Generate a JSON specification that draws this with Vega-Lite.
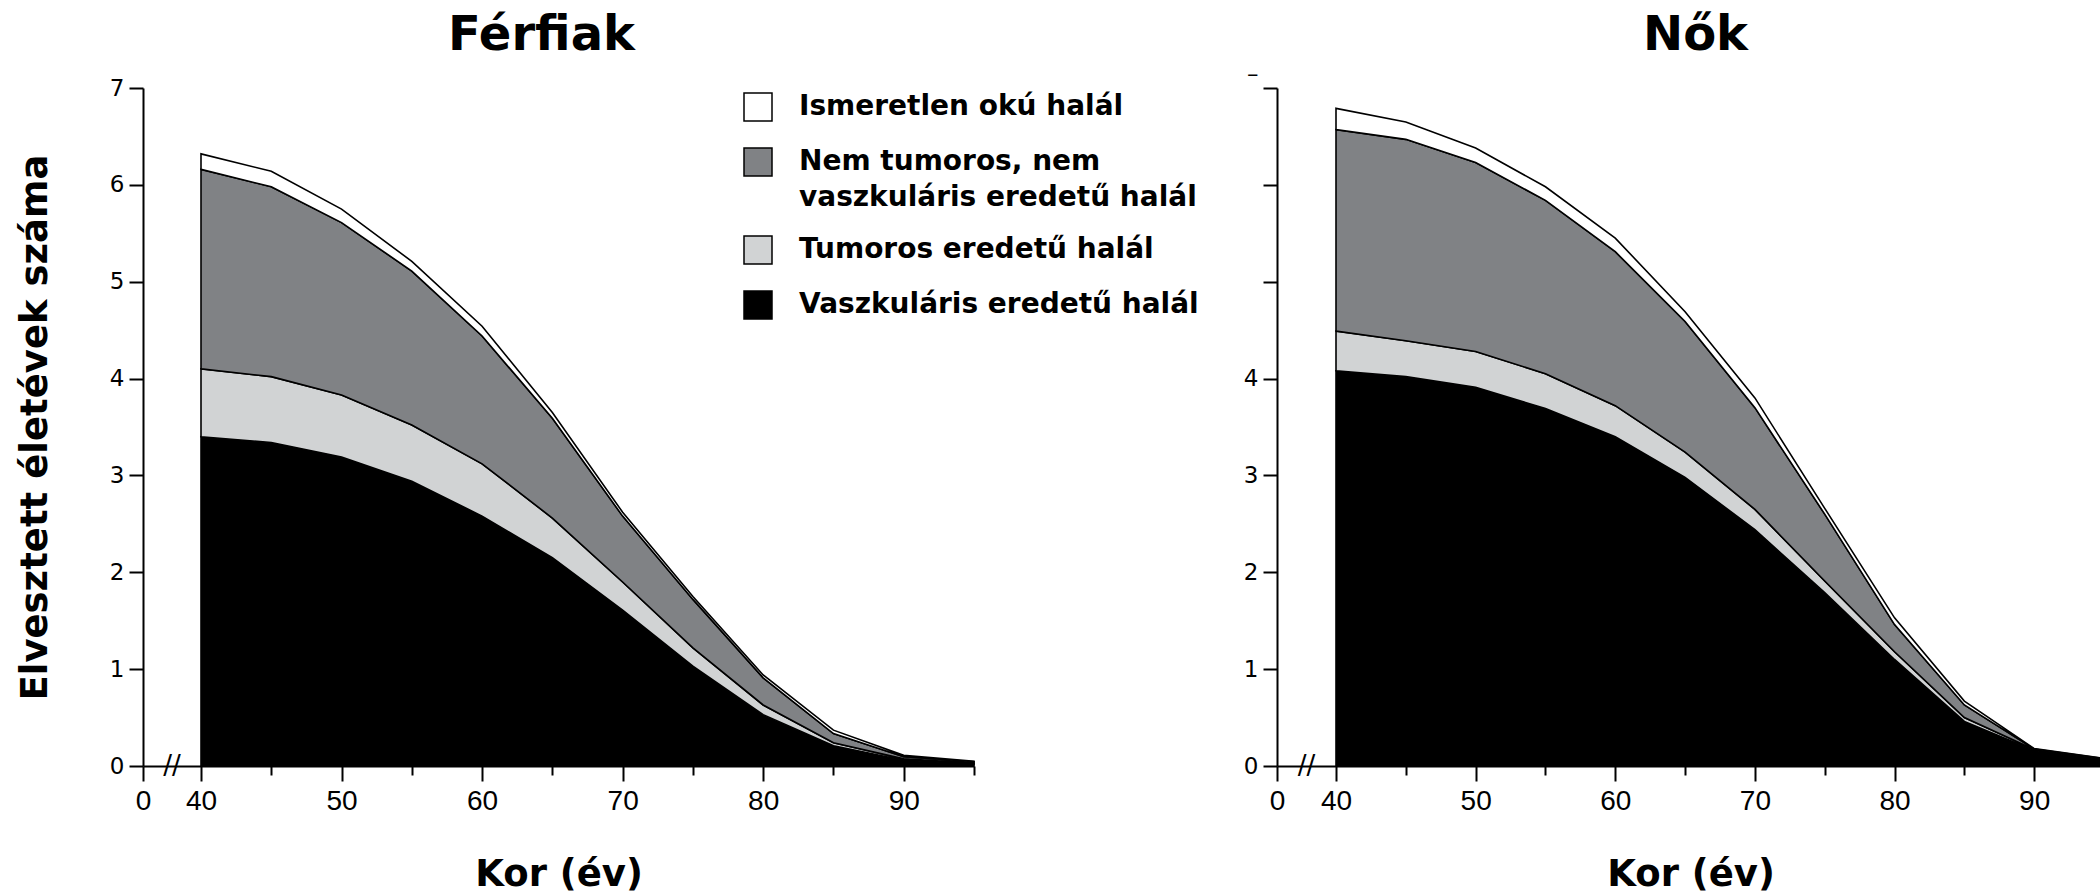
{
  "$schema": "https://vega.github.io/schema/vega-lite/v6.json",
  "padding": {"left": 16, "top": 12, "right": 0, "bottom": 0},
  "background": "white",
  "config": {
    "view": {"stroke": null},
    "axis": {"domainColor": "#000", "tickColor": "#000", "labelColor": "#000", "titleColor": "#000", "domainWidth": 2, "tickWidth": 2, "grid": false}
  },
  "data": {"values": [
    {"sex": "Férfiak", "age": 40, "cause": "Vaszkuláris eredetű halál", "value": 3.40},
    {"sex": "Férfiak", "age": 40, "cause": "Tumoros eredetű halál", "value": 0.70},
    {"sex": "Férfiak", "age": 40, "cause": "Nem tumoros, nem vaszkuláris eredetű halál", "value": 2.06},
    {"sex": "Férfiak", "age": 40, "cause": "Ismeretlen okú halál", "value": 0.16},
    {"sex": "Férfiak", "age": 45, "cause": "Vaszkuláris eredetű halál", "value": 3.34},
    {"sex": "Férfiak", "age": 45, "cause": "Tumoros eredetű halál", "value": 0.68},
    {"sex": "Férfiak", "age": 45, "cause": "Nem tumoros, nem vaszkuláris eredetű halál", "value": 1.96},
    {"sex": "Férfiak", "age": 45, "cause": "Ismeretlen okú halál", "value": 0.16},
    {"sex": "Férfiak", "age": 50, "cause": "Vaszkuláris eredetű halál", "value": 3.19},
    {"sex": "Férfiak", "age": 50, "cause": "Tumoros eredetű halál", "value": 0.64},
    {"sex": "Férfiak", "age": 50, "cause": "Nem tumoros, nem vaszkuláris eredetű halál", "value": 1.78},
    {"sex": "Férfiak", "age": 50, "cause": "Ismeretlen okú halál", "value": 0.14},
    {"sex": "Férfiak", "age": 55, "cause": "Vaszkuláris eredetű halál", "value": 2.94},
    {"sex": "Férfiak", "age": 55, "cause": "Tumoros eredetű halál", "value": 0.58},
    {"sex": "Férfiak", "age": 55, "cause": "Nem tumoros, nem vaszkuláris eredetű halál", "value": 1.59},
    {"sex": "Férfiak", "age": 55, "cause": "Ismeretlen okú halál", "value": 0.10},
    {"sex": "Férfiak", "age": 60, "cause": "Vaszkuláris eredetű halál", "value": 2.58},
    {"sex": "Férfiak", "age": 60, "cause": "Tumoros eredetű halál", "value": 0.54},
    {"sex": "Férfiak", "age": 60, "cause": "Nem tumoros, nem vaszkuláris eredetű halál", "value": 1.32},
    {"sex": "Férfiak", "age": 60, "cause": "Ismeretlen okú halál", "value": 0.10},
    {"sex": "Férfiak", "age": 65, "cause": "Vaszkuláris eredetű halál", "value": 2.15},
    {"sex": "Férfiak", "age": 65, "cause": "Tumoros eredetű halál", "value": 0.41},
    {"sex": "Férfiak", "age": 65, "cause": "Nem tumoros, nem vaszkuláris eredetű halál", "value": 1.03},
    {"sex": "Férfiak", "age": 65, "cause": "Ismeretlen okú halál", "value": 0.06},
    {"sex": "Férfiak", "age": 70, "cause": "Vaszkuláris eredetű halál", "value": 1.61},
    {"sex": "Férfiak", "age": 70, "cause": "Tumoros eredetű halál", "value": 0.29},
    {"sex": "Férfiak", "age": 70, "cause": "Nem tumoros, nem vaszkuláris eredetű halál", "value": 0.68},
    {"sex": "Férfiak", "age": 70, "cause": "Ismeretlen okú halál", "value": 0.04},
    {"sex": "Férfiak", "age": 75, "cause": "Vaszkuláris eredetű halál", "value": 1.03},
    {"sex": "Férfiak", "age": 75, "cause": "Tumoros eredetű halál", "value": 0.19},
    {"sex": "Férfiak", "age": 75, "cause": "Nem tumoros, nem vaszkuláris eredetű halál", "value": 0.50},
    {"sex": "Férfiak", "age": 75, "cause": "Ismeretlen okú halál", "value": 0.03},
    {"sex": "Férfiak", "age": 80, "cause": "Vaszkuláris eredetű halál", "value": 0.53},
    {"sex": "Férfiak", "age": 80, "cause": "Tumoros eredetű halál", "value": 0.10},
    {"sex": "Férfiak", "age": 80, "cause": "Nem tumoros, nem vaszkuláris eredetű halál", "value": 0.28},
    {"sex": "Férfiak", "age": 80, "cause": "Ismeretlen okú halál", "value": 0.03},
    {"sex": "Férfiak", "age": 85, "cause": "Vaszkuláris eredetű halál", "value": 0.21},
    {"sex": "Férfiak", "age": 85, "cause": "Tumoros eredetű halál", "value": 0.03},
    {"sex": "Férfiak", "age": 85, "cause": "Nem tumoros, nem vaszkuláris eredetű halál", "value": 0.095},
    {"sex": "Férfiak", "age": 85, "cause": "Ismeretlen okú halál", "value": 0.035},
    {"sex": "Férfiak", "age": 90, "cause": "Vaszkuláris eredetű halál", "value": 0.06},
    {"sex": "Férfiak", "age": 90, "cause": "Tumoros eredetű halál", "value": 0.014},
    {"sex": "Férfiak", "age": 90, "cause": "Nem tumoros, nem vaszkuláris eredetű halál", "value": 0.021},
    {"sex": "Férfiak", "age": 90, "cause": "Ismeretlen okú halál", "value": 0.015},
    {"sex": "Férfiak", "age": 95, "cause": "Vaszkuláris eredetű halál", "value": 0.02},
    {"sex": "Férfiak", "age": 95, "cause": "Tumoros eredetű halál", "value": 0.01},
    {"sex": "Férfiak", "age": 95, "cause": "Nem tumoros, nem vaszkuláris eredetű halál", "value": 0.015},
    {"sex": "Férfiak", "age": 95, "cause": "Ismeretlen okú halál", "value": 0.005},
    {"sex": "Nők", "age": 40, "cause": "Vaszkuláris eredetű halál", "value": 4.08},
    {"sex": "Nők", "age": 40, "cause": "Tumoros eredetű halál", "value": 0.41},
    {"sex": "Nők", "age": 40, "cause": "Nem tumoros, nem vaszkuláris eredetű halál", "value": 2.08},
    {"sex": "Nők", "age": 40, "cause": "Ismeretlen okú halál", "value": 0.22},
    {"sex": "Nők", "age": 45, "cause": "Vaszkuláris eredetű halál", "value": 4.02},
    {"sex": "Nők", "age": 45, "cause": "Tumoros eredetű halál", "value": 0.37},
    {"sex": "Nők", "age": 45, "cause": "Nem tumoros, nem vaszkuláris eredetű halál", "value": 2.08},
    {"sex": "Nők", "age": 45, "cause": "Ismeretlen okú halál", "value": 0.18},
    {"sex": "Nők", "age": 50, "cause": "Vaszkuláris eredetű halál", "value": 3.91},
    {"sex": "Nők", "age": 50, "cause": "Tumoros eredetű halál", "value": 0.37},
    {"sex": "Nők", "age": 50, "cause": "Nem tumoros, nem vaszkuláris eredetű halál", "value": 1.95},
    {"sex": "Nők", "age": 50, "cause": "Ismeretlen okú halál", "value": 0.15},
    {"sex": "Nők", "age": 55, "cause": "Vaszkuláris eredetű halál", "value": 3.69},
    {"sex": "Nők", "age": 55, "cause": "Tumoros eredetű halál", "value": 0.36},
    {"sex": "Nők", "age": 55, "cause": "Nem tumoros, nem vaszkuláris eredetű halál", "value": 1.79},
    {"sex": "Nők", "age": 55, "cause": "Ismeretlen okú halál", "value": 0.14},
    {"sex": "Nők", "age": 60, "cause": "Vaszkuláris eredetű halál", "value": 3.40},
    {"sex": "Nők", "age": 60, "cause": "Tumoros eredetű halál", "value": 0.32},
    {"sex": "Nők", "age": 60, "cause": "Nem tumoros, nem vaszkuláris eredetű halál", "value": 1.59},
    {"sex": "Nők", "age": 60, "cause": "Ismeretlen okú halál", "value": 0.14},
    {"sex": "Nők", "age": 65, "cause": "Vaszkuláris eredetű halál", "value": 2.98},
    {"sex": "Nők", "age": 65, "cause": "Tumoros eredetű halál", "value": 0.26},
    {"sex": "Nők", "age": 65, "cause": "Nem tumoros, nem vaszkuláris eredetű halál", "value": 1.35},
    {"sex": "Nők", "age": 65, "cause": "Ismeretlen okú halál", "value": 0.10},
    {"sex": "Nők", "age": 70, "cause": "Vaszkuláris eredetű halál", "value": 2.44},
    {"sex": "Nők", "age": 70, "cause": "Tumoros eredetű halál", "value": 0.21},
    {"sex": "Nők", "age": 70, "cause": "Nem tumoros, nem vaszkuláris eredetű halál", "value": 1.05},
    {"sex": "Nők", "age": 70, "cause": "Ismeretlen okú halál", "value": 0.10},
    {"sex": "Nők", "age": 75, "cause": "Vaszkuláris eredetű halál", "value": 1.79},
    {"sex": "Nők", "age": 75, "cause": "Tumoros eredetű halál", "value": 0.12},
    {"sex": "Nők", "age": 75, "cause": "Nem tumoros, nem vaszkuláris eredetű halál", "value": 0.69},
    {"sex": "Nők", "age": 75, "cause": "Ismeretlen okú halál", "value": 0.06},
    {"sex": "Nők", "age": 80, "cause": "Vaszkuláris eredetű halál", "value": 1.10},
    {"sex": "Nők", "age": 80, "cause": "Tumoros eredetű halál", "value": 0.08},
    {"sex": "Nők", "age": 80, "cause": "Nem tumoros, nem vaszkuláris eredetű halál", "value": 0.28},
    {"sex": "Nők", "age": 80, "cause": "Ismeretlen okú halál", "value": 0.07},
    {"sex": "Nők", "age": 85, "cause": "Vaszkuláris eredetű halál", "value": 0.46},
    {"sex": "Nők", "age": 85, "cause": "Tumoros eredetű halál", "value": 0.04},
    {"sex": "Nők", "age": 85, "cause": "Nem tumoros, nem vaszkuláris eredetű halál", "value": 0.13},
    {"sex": "Nők", "age": 85, "cause": "Ismeretlen okú halál", "value": 0.04},
    {"sex": "Nők", "age": 90, "cause": "Vaszkuláris eredetű halál", "value": 0.16},
    {"sex": "Nők", "age": 90, "cause": "Tumoros eredetű halál", "value": 0.01},
    {"sex": "Nők", "age": 90, "cause": "Nem tumoros, nem vaszkuláris eredetű halál", "value": 0.005},
    {"sex": "Nők", "age": 90, "cause": "Ismeretlen okú halál", "value": 0.005},
    {"sex": "Nők", "age": 95, "cause": "Vaszkuláris eredetű halál", "value": 0.065},
    {"sex": "Nők", "age": 95, "cause": "Tumoros eredetű halál", "value": 0.005},
    {"sex": "Nők", "age": 95, "cause": "Nem tumoros, nem vaszkuláris eredetű halál", "value": 0.005},
    {"sex": "Nők", "age": 95, "cause": "Ismeretlen okú halál", "value": 0.005}
  ]},
  "spacing": 265,
  "resolve": {"scale": {"color": "shared"}, "legend": {"color": "shared"}},
  "hconcat": [
    {
      "width": 831,
      "height": 678,
      "title": {"text": "Férfiak", "font": "DejaVu Sans", "fontSize": 48, "fontWeight": "bold", "color": "#000", "offset": 17, "frame": "group", "dx": -17},
      "layer": [
        {
          "transform": [{"filter": "datum.sex == 'Férfiak'"}],
          "mark": {"type": "area", "stroke": "#000", "strokeWidth": 1.6},
          "encoding": {
            "x": {"field": "age", "type": "quantitative",
              "scale": {"domain": [0, 40, 95], "range": [0, 58, 831], "nice": false, "zero": false},
              "axis": {"values": [0, 40, 45, 50, 55, 60, 65, 70, 75, 80, 85, 90, 95],
                "labelExpr": "datum.value % 10 == 0 ? datum.label : ''",
                "tickSize": {"condition": {"test": "datum.value % 10 == 0", "value": 15}, "value": 9},
                "labelFont": "Liberation Sans", "labelFontSize": 28, "labelPadding": 6, "labelFlush": false,
                "title": "Kor (év)", "titleFont": "DejaVu Sans", "titleFontSize": 37, "titleFontWeight": "bold", "titlePadding": 41}},
            "y": {"field": "value", "type": "quantitative", "stack": "zero",
              "scale": {"domain": [0, 7], "nice": false},
              "axis": {"values": [0, 1, 2, 3, 4, 5, 6, 7], "format": "d", "tickSize": 14, "labelPadding": 5,
                "labelFont": "DejaVu Sans", "labelFontSize": 23,
                "title": "Elvesztett életévek száma", "titleFont": "DejaVu Sans", "titleFontSize": 37, "titleFontWeight": "bold", "titlePadding": 55}},
            "color": {"field": "cause", "type": "nominal",
              "scale": {"domain": ["Ismeretlen okú halál", "Nem tumoros, nem vaszkuláris eredetű halál", "Tumoros eredetű halál", "Vaszkuláris eredetű halál"],
                "range": ["#ffffff", "#808285", "#d1d3d4", "#000000"]},
              "legend": {"orient": "none", "legendX": 600, "legendY": 4, "title": null, "symbolType": "square", "symbolSize": 784,
                "symbolStrokeColor": "#000", "symbolStrokeWidth": 1.5, "symbolOpacity": 1,
                "labelFont": "DejaVu Sans", "labelFontWeight": "bold", "labelFontSize": 28, "labelColor": "#000",
                "labelOffset": 26, "labelLimit": 0, "rowPadding": 21, "padding": 0,
                "labelExpr": "datum.label == 'Nem tumoros, nem vaszkuláris eredetű halál' ? ['Nem tumoros, nem', 'vaszkuláris eredetű halál'] : datum.label",
                "encoding": {"labels": {"lineHeight": {"value": 36}}}}},
            "order": {"field": "cause", "sort": "descending"}
          }
        },
        {
          "data": {"values": [{}]},
          "mark": {"type": "text", "text": "//", "font": "DejaVu Sans", "fontSize": 26, "color": "#000"},
          "encoding": {"x": {"datum": 20}, "y": {"datum": 0}}
        }
      ]
    },
    {
      "width": 827,
      "height": 678,
      "title": {"text": "Nők", "font": "DejaVu Sans", "fontSize": 48, "fontWeight": "bold", "color": "#000", "offset": 3, "frame": "group", "dx": 5},
      "layer": [
        {
          "transform": [{"filter": "datum.sex == 'Nők'"}],
          "mark": {"type": "area", "stroke": "#000", "strokeWidth": 1.6},
          "encoding": {
            "x": {"field": "age", "type": "quantitative",
              "scale": {"domain": [0, 40, 95], "range": [0, 59, 827], "nice": false, "zero": false},
              "axis": {"values": [0, 40, 45, 50, 55, 60, 65, 70, 75, 80, 85, 90, 95],
                "labelExpr": "datum.value % 10 == 0 ? datum.label : ''",
                "tickSize": {"condition": {"test": "datum.value % 10 == 0", "value": 15}, "value": 9},
                "labelFont": "Liberation Sans", "labelFontSize": 28, "labelPadding": 6, "labelFlush": false,
                "title": "Kor (év)", "titleFont": "DejaVu Sans", "titleFontSize": 37, "titleFontWeight": "bold", "titlePadding": 41}},
            "y": {"field": "value", "type": "quantitative", "stack": "zero",
              "scale": {"domain": [0, 7], "nice": false},
              "axis": {"values": [0, 1, 2, 3, 4, 5, 6, 7], "format": "d", "tickSize": 14, "labelPadding": 5,
                "labelFont": "DejaVu Sans", "labelFontSize": 23,
                "labelExpr": "datum.value == 7 ? '–' : (datum.value >= 5 ? '' : datum.label)",
                "labelOffset": {"condition": {"test": "datum.value == 7", "value": -14}, "value": 0},
                "title": null}},
            "color": {"field": "cause", "type": "nominal",
              "scale": {"domain": ["Ismeretlen okú halál", "Nem tumoros, nem vaszkuláris eredetű halál", "Tumoros eredetű halál", "Vaszkuláris eredetű halál"],
                "range": ["#ffffff", "#808285", "#d1d3d4", "#000000"]},
              "legend": {"orient": "none", "legendX": 600, "legendY": 4, "title": null, "symbolType": "square", "symbolSize": 784,
                "symbolStrokeColor": "#000", "symbolStrokeWidth": 1.5, "symbolOpacity": 1,
                "labelFont": "DejaVu Sans", "labelFontWeight": "bold", "labelFontSize": 28, "labelColor": "#000",
                "labelOffset": 26, "labelLimit": 0, "rowPadding": 21, "padding": 0,
                "labelExpr": "datum.label == 'Nem tumoros, nem vaszkuláris eredetű halál' ? ['Nem tumoros, nem', 'vaszkuláris eredetű halál'] : datum.label",
                "encoding": {"labels": {"lineHeight": {"value": 36}}}}},
            "order": {"field": "cause", "sort": "descending"}
          }
        },
        {
          "data": {"values": [{}]},
          "mark": {"type": "text", "text": "//", "font": "DejaVu Sans", "fontSize": 26, "color": "#000"},
          "encoding": {"x": {"datum": 20}, "y": {"datum": 0}}
        }
      ]
    }
  ]
}
